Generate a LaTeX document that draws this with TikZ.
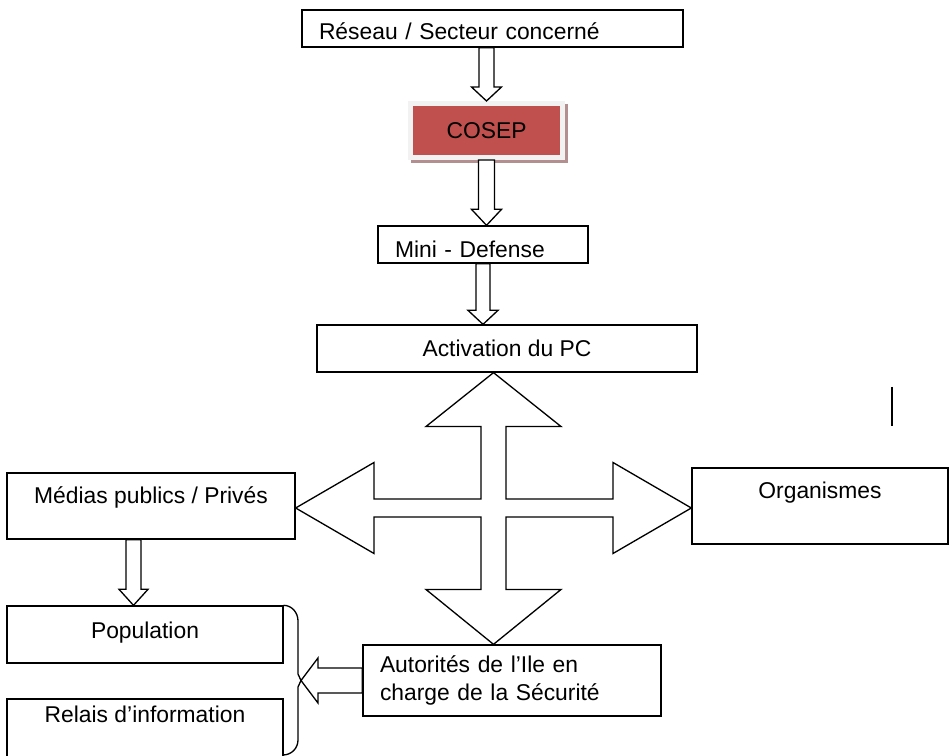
\documentclass[tikz,border=0pt]{standalone}
\usepackage{fontspec}
\setmainfont{Liberation Sans}
\usepackage{xcolor}
\usepackage{tikz}
\usetikzlibrary{calc,backgrounds}
\definecolor{cosred}{HTML}{C0504D}
\definecolor{cosrim}{HTML}{F2F2F2}
\definecolor{cosshade}{HTML}{B48F8F}

\begin{document}
\begin{tikzpicture}[
  font=\fontsize{13}{15.9}\selectfont,
  box/.style={draw,line width=0.75pt,inner sep=0pt},
  tx/.style={text height=9.3pt,text depth=#1},tx/.default=0pt,
  blk/.style n args={3}{draw,line width=0.75pt,fill=white,
    to path={let \p1=($(\tikztotarget)!#3!(\tikztostart)$) in
      ($(\tikztostart)!#1!90:(\tikztotarget)$) -- ($(\p1)!#1!90:(\tikztotarget)$)
      -- ($(\p1)!#2!90:(\tikztotarget)$) -- (\tikztotarget)
      -- ($(\p1)!#2!-90:(\tikztotarget)$) -- ($(\p1)!#1!-90:(\tikztotarget)$)
      -- ($(\tikztostart)!#1!-90:(\tikztotarget)$) -- cycle}}]
  \useasboundingbox (0,0) rectangle (18.98,15.12);
  \node[box,tx,text height=12.7pt,align=left,text width=6.94cm,inner xsep=0.34cm,minimum height=0.74cm] (res) at (9.85,14.55) {Réseau / Secteur concerné};
  \node[box,tx,draw=cosrim,line width=0.1cm,fill=cosred,minimum width=3.04cm,minimum height=1.08cm] (cos) at (9.73,12.51) {COSEP};
  \node[box,tx,text height=14.4pt,align=left,text width=3.52cm,inner xsep=0.34cm,minimum height=0.74cm] (mini) at (9.66,10.23) {Mini - Defense};
  \node[box,tx,minimum width=7.6cm,minimum height=0.94cm] (act) at (10.14,8.15) {Activation du PC};
  \node[box,tx=12pt,minimum width=5.76cm,minimum height=1.32cm] (med) at (3.02,5.00) {Médias publics / Privés};
  \node[box,tx=17.6pt,minimum width=5.12cm,minimum height=1.52cm] (org) at (16.40,5.00) {Organismes};
  \node[box,tx=5.1pt,minimum width=5.52cm,minimum height=1.14cm] (pop) at (2.90,2.43) {Population};
  \node[box,tx=19.8pt,minimum width=5.52cm,minimum height=1.32cm] (rel) at (2.90,0.48) {Relais d’information};
  \node[box,align=left,text width=5.28cm,inner xsep=0.34cm,minimum height=1.42cm] (aut) at (10.24,1.51) {Autorités de l’Ile en\\charge de la Sécurité};
  \coordinate (hub) at (9.87,4.96);
  \coordinate (brtip) at (6.02,1.51);
  % ombre du COSEP
  \begin{scope}[on background layer]
    \fill[cosshade] ([shift={(0.06,-0.06)}]cos.north west) rectangle ([shift={(0.06,-0.06)}]cos.south east);
  \end{scope}
  \draw[blk={0.15cm}{0.3cm}{0.28cm}] (res.south -| cos.north) to (cos.north);
  \draw[blk={0.16cm}{0.3cm}{0.32cm}] (cos.south) to (cos.south |- mini.north);
  \draw[blk={0.14cm}{0.3cm}{0.28cm}] (mini.south) to (mini.south |- act.north);
  \draw[blk={0.15cm}{0.29cm}{0.32cm}] ($(med.south)+(-0.35,0)$) to ($(pop.north)+(-0.23,0)$);
  \draw[blk={0.25cm}{0.45cm}{0.34cm}] (aut.west) to (aut.west -| brtip);
  % fleche en croix
  \begin{scope}[shift={(hub)}]
    \draw[line width=0.75pt] (0.25,0.18) -- (0.25,1.63) -- (1.35,1.63) -- (hub |- act.south) -- (-1.35,1.63) -- (-0.25,1.63)
      -- (-0.25,0.18) -- (-2.39,0.18) -- (-2.39,0.91) -- (hub -| med.east) -- (-2.39,-0.91) -- (-2.39,-0.18)
      -- (-0.25,-0.18) -- (-0.25,-1.63) -- (-1.35,-1.63) -- (hub |- aut.north) -- (1.35,-1.63) -- (0.25,-1.63)
      -- (0.25,-0.18) -- (2.39,-0.18) -- (2.39,-0.91) -- (hub -| org.west) -- (2.39,0.91) -- (2.39,0.18) -- cycle;
  \end{scope}
  % accolade
  \draw[line width=0.75pt] (pop.north east) to[out=0,in=90] (5.96,2.70) -- (5.96,1.64) -- (brtip) -- (5.96,1.38)
    -- (5.96,0.32) to[out=-90,in=0] (5.66,0.02);
  \draw[line width=0.75pt] (17.84,7.38) -- (17.84,6.60);
\end{tikzpicture}
\end{document}
